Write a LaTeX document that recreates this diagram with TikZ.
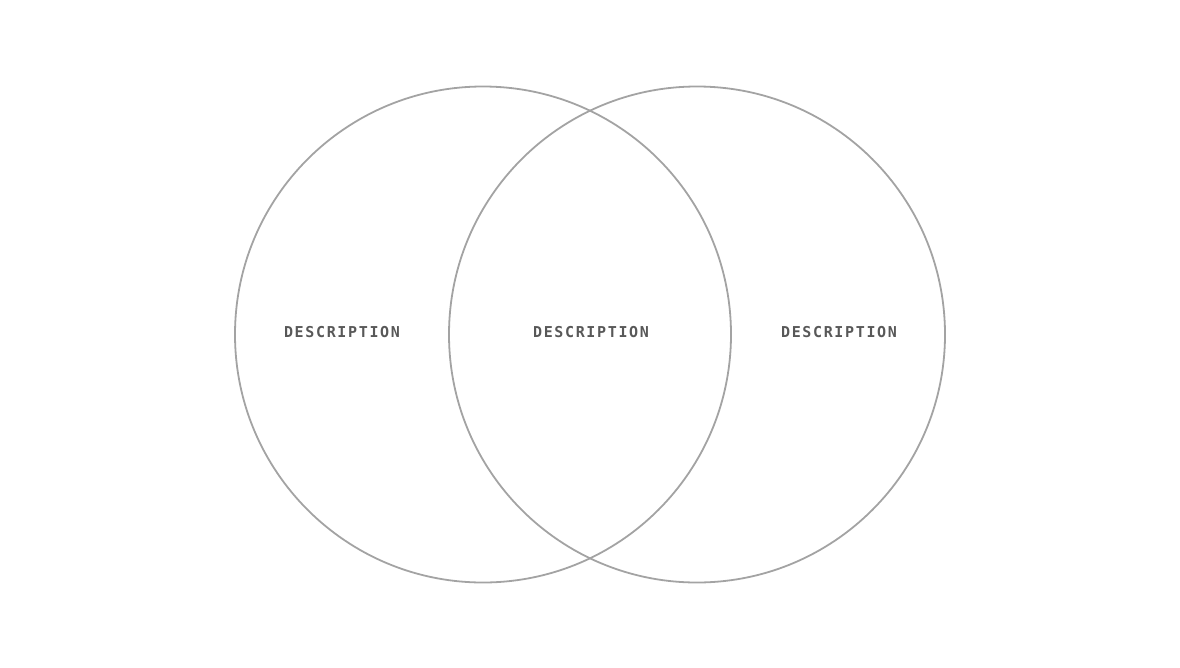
\documentclass[tikz,border=0pt]{standalone}
\usepackage{fontspec}
\newfontfamily\labfont[LetterSpace=11]{DejaVu Sans Mono}
\definecolor{ringgray}{HTML}{A3A3A3}
\definecolor{textgray}{HTML}{585858}
\begin{document}
\begin{tikzpicture}[x=1pt,y=-1pt,
  ring/.style={draw=ringgray, line width=1.8pt},
  lab/.style={text=textgray, font=\labfont\bfseries\fontsize{15}{18}\selectfont, inner sep=0pt}]
\useasboundingbox (0,0) rectangle (1180,667);
\node[ring, circle, minimum size=496pt, inner sep=0pt] (c1) at (483,334.5) {};
\node[ring, circle, minimum size=496pt, inner sep=0pt] (c2) at (697,334.5) {};
\node[lab] (t1) at (342,332) {DESCRIPTION};
\node[lab] (t2) at (591,332) {DESCRIPTION};
\node[lab] (t3) at (839,332) {DESCRIPTION};
\end{tikzpicture}
\end{document}
